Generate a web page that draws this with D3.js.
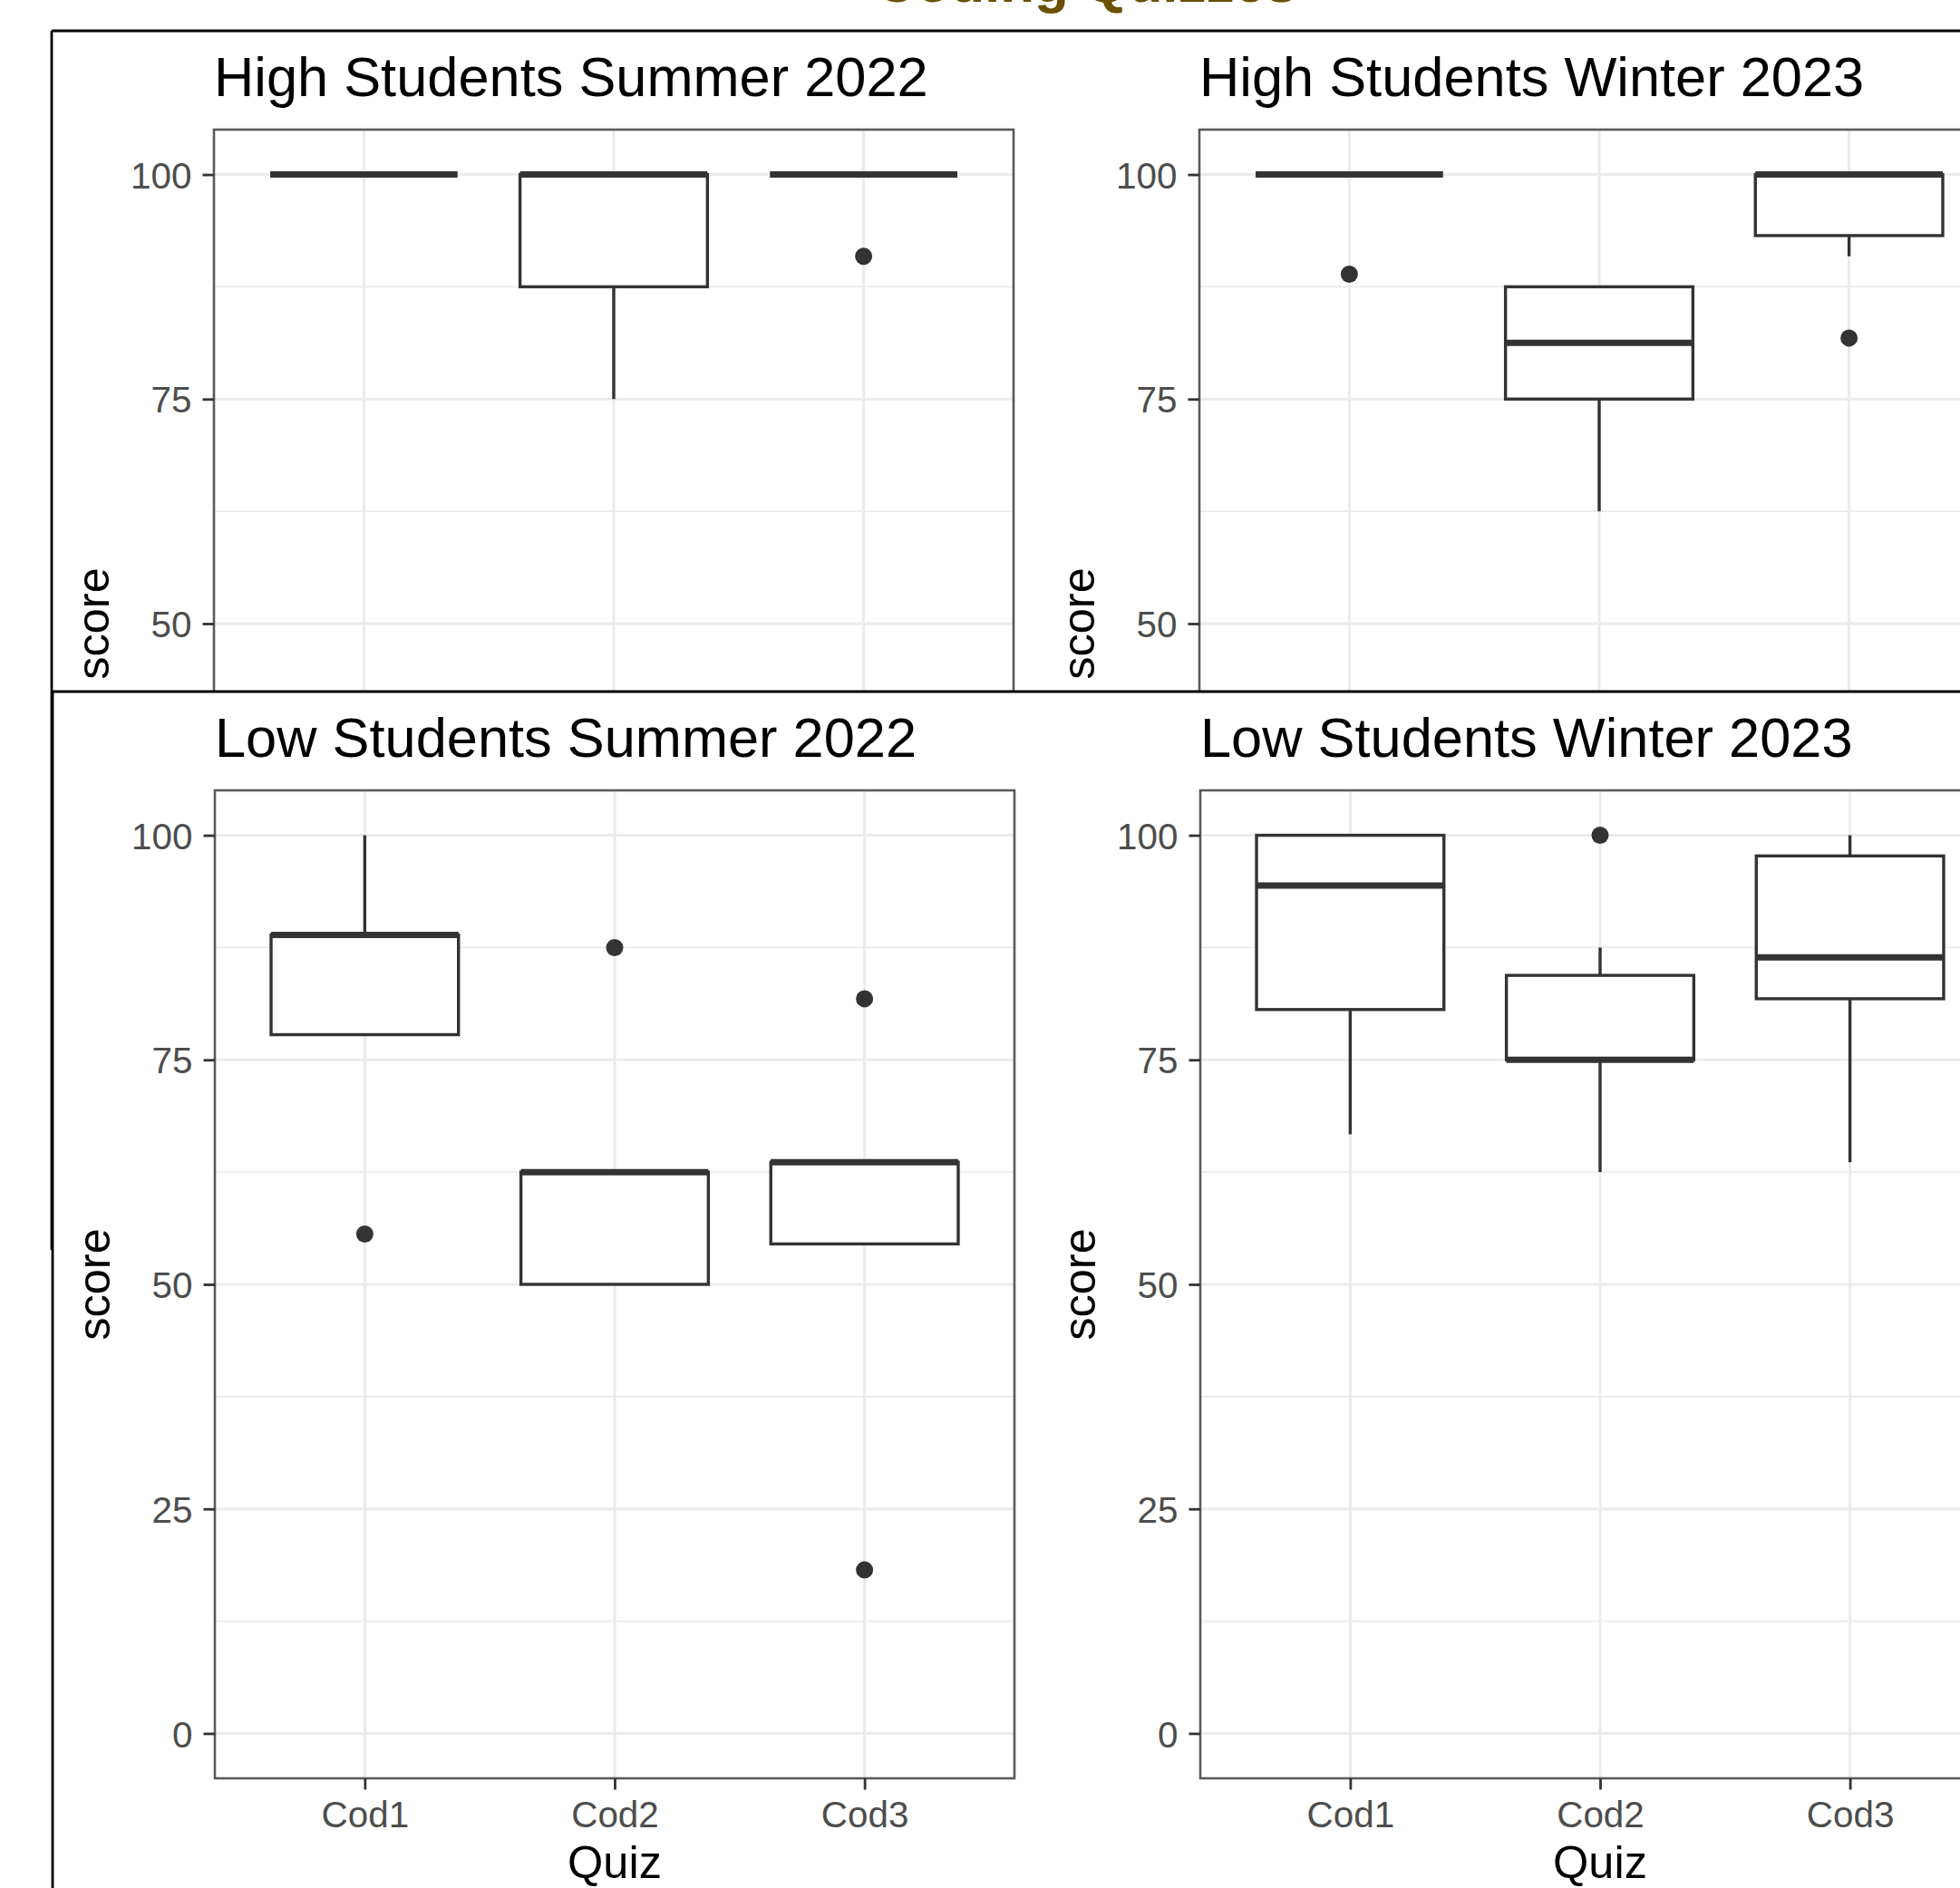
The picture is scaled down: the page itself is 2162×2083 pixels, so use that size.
<!DOCTYPE html>
<html>
<head>
<meta charset="utf-8">
<script src="https://cdn.jsdelivr.net/npm/d3@7"></script>
<style>
  body { margin: 0; background: #fff; }
  svg { display: block; }
  text { font-family: "Liberation Sans", Arial, Helvetica, sans-serif; }
</style>
</head>
<body>
<svg id="chart"></svg>
<script>
const width = 2162;
const height = 2083;

const quizzes = ["Cod1", "Cod2", "Cod3"];
const yTicks = [0, 25, 50, 75, 100];
const yMinorTicks = [12.5, 37.5, 62.5, 87.5];
const yDomain = [-5, 105];

// box stats: whisker low, q1, median, q3, whisker high, outliers
const highSummer2022 = [
  { quiz: "Cod1", low: 100, q1: 100, median: 100, q3: 100, high: 100, outliers: [] },
  { quiz: "Cod2", low: 75, q1: 87.5, median: 100, q3: 100, high: 100, outliers: [] },
  { quiz: "Cod3", low: 100, q1: 100, median: 100, q3: 100, high: 100, outliers: [90.9] },
];
const highWinter2023 = [
  { quiz: "Cod1", low: 100, q1: 100, median: 100, q3: 100, high: 100, outliers: [88.9] },
  { quiz: "Cod2", low: 62.5, q1: 75, median: 81.25, q3: 87.5, high: 87.5, outliers: [] },
  { quiz: "Cod3", low: 90.9, q1: 93.2, median: 100, q3: 100, high: 100, outliers: [81.8] },
];
const lowSummer2022 = [
  { quiz: "Cod1", low: 77.8, q1: 77.8, median: 88.9, q3: 88.9, high: 100, outliers: [55.6] },
  { quiz: "Cod2", low: 50, q1: 50, median: 62.5, q3: 62.5, high: 62.5, outliers: [87.5] },
  { quiz: "Cod3", low: 54.5, q1: 54.5, median: 63.6, q3: 63.6, high: 63.6, outliers: [81.8, 18.2] },
];
const lowWinter2023 = [
  { quiz: "Cod1", low: 66.7, q1: 80.6, median: 94.4, q3: 100, high: 100, outliers: [] },
  { quiz: "Cod2", low: 62.5, q1: 75, median: 75, q3: 84.4, high: 87.5, outliers: [100] },
  { quiz: "Cod3", low: 63.6, q1: 81.8, median: 86.4, q3: 97.7, high: 100, outliers: [] },
];

// two pasted figures, the lower one lying over the upper one
// (visible = how much of the sheet is not covered by the next one)
const sheets = [
  {
    x: 57, y: 34, h: 1345, visible: 729,
    panels: [
      { title: "High Students Summer 2022", data: highSummer2022 },
      { title: "High Students Winter 2023", data: highWinter2023 },
    ],
  },
  {
    x: 58, y: 763, h: 1400, visible: 1400,
    panels: [
      { title: "Low Students Summer 2022", data: lowSummer2022 },
      { title: "Low Students Winter 2023", data: lowWinter2023 },
    ],
  },
];

const panelLefts = [179, 1266];
const panelTop = 109;
const panelW = 882;
const panelH = 1090;
const base = 50.5;
const ink = "#333333";

const svg = d3.select("#chart").attr("width", width).attr("height", height);
svg.append("rect").attr("width", width).attr("height", height).attr("fill", "#fff");

svg.append("text")
  .attr("x", 1198)
  .attr("y", 2)
  .attr("text-anchor", "middle")
  .attr("font-size", 62)
  .attr("font-weight", "bold")
  .attr("fill", "#6b5000")
  .text("Coding Quizzes");

const x = d3.scalePoint().domain(quizzes).range([0, panelW]).padding(0.6);
const y = d3.scaleLinear().domain(yDomain).range([panelH, 0]);
const boxW = x.step() * 0.75;

function drawPanel(g, panel, maxY) {
  g.append("g")
    .selectAll("line")
    .data(yMinorTicks)
    .join("line")
    .attr("x1", 0).attr("x2", panelW)
    .attr("y1", y).attr("y2", y)
    .attr("stroke", "#ebebeb").attr("stroke-width", 1.6);

  g.append("g")
    .selectAll("line")
    .data(yTicks)
    .join("line")
    .attr("x1", 0).attr("x2", panelW)
    .attr("y1", y).attr("y2", y)
    .attr("stroke", "#ebebeb").attr("stroke-width", 3);

  g.append("g")
    .selectAll("line")
    .data(quizzes)
    .join("line")
    .attr("x1", x).attr("x2", x)
    .attr("y1", 0).attr("y2", panelH)
    .attr("stroke", "#ebebeb").attr("stroke-width", 3);

  const box = g.append("g")
    .selectAll("g")
    .data(panel.data)
    .join("g");

  box.append("line")
    .attr("x1", (d) => x(d.quiz)).attr("x2", (d) => x(d.quiz))
    .attr("y1", (d) => y(d.high)).attr("y2", (d) => y(d.q3))
    .attr("stroke", ink).attr("stroke-width", 3.4);

  box.append("line")
    .attr("x1", (d) => x(d.quiz)).attr("x2", (d) => x(d.quiz))
    .attr("y1", (d) => y(d.q1)).attr("y2", (d) => y(d.low))
    .attr("stroke", ink).attr("stroke-width", 3.4);

  box.append("rect")
    .attr("x", (d) => x(d.quiz) - boxW / 2)
    .attr("width", boxW)
    .attr("y", (d) => y(d.q3))
    .attr("height", (d) => y(d.q1) - y(d.q3))
    .attr("fill", "#fff")
    .attr("stroke", ink).attr("stroke-width", 3.4);

  box.append("line")
    .attr("x1", (d) => x(d.quiz) - boxW / 2).attr("x2", (d) => x(d.quiz) + boxW / 2)
    .attr("y1", (d) => y(d.median)).attr("y2", (d) => y(d.median))
    .attr("stroke", ink).attr("stroke-width", 7);

  box.selectAll("circle")
    .data((d) => d.outliers.map((v) => ({ quiz: d.quiz, v })))
    .join("circle")
    .attr("cx", (d) => x(d.quiz))
    .attr("cy", (d) => y(d.v))
    .attr("r", 9.5)
    .attr("fill", ink);

  g.append("rect")
    .attr("width", panelW).attr("height", panelH)
    .attr("fill", "none")
    .attr("stroke", "#5a5a5a").attr("stroke-width", 2.6);

  const axes = [];
  const yAxis = g.append("g")
    .call(d3.axisLeft(y)
      .tickValues(yTicks.filter((v) => y(v) < maxY))
      .tickSize(12.5)
      .tickPadding(12));
  yAxis.selectAll(".tick text").attr("dy", "0.36em");
  axes.push(yAxis);

  if (panelH + 110 < maxY) {
    const xAxis = g.append("g")
      .attr("transform", `translate(0,${panelH})`)
      .call(d3.axisBottom(x).tickSize(12.5).tickPadding(13));
    axes.push(xAxis);

    g.append("text")
      .attr("x", panelW / 2)
      .attr("y", panelH + 110)
      .attr("text-anchor", "middle")
      .attr("font-size", base)
      .attr("fill", "#000")
      .text("Quiz");
  }

  axes.forEach((axis) => {
    axis.select(".domain").remove();
    axis.selectAll(".tick line").attr("stroke", ink).attr("stroke-width", 2.8);
    axis.selectAll(".tick text")
      .attr("font-size", base * 0.8)
      .attr("fill", "#4d4d4d")
      .attr("font-family", null);
  });

  g.append("text")
    .attr("x", 0)
    .attr("y", -37)
    .attr("font-size", base * 1.215)
    .attr("fill", "#000")
    .text(panel.title);

  g.append("text")
    .attr("transform", `translate(-116,${panelH / 2}) rotate(-90)`)
    .attr("text-anchor", "middle")
    .attr("font-size", base)
    .attr("fill", "#000")
    .text("score");
}

sheets.forEach((sheet, i) => {
  const clipId = `sheet-clip-${i}`;
  svg.append("clipPath")
    .attr("id", clipId)
    .append("rect")
    .attr("x", -2).attr("y", -2)
    .attr("width", width).attr("height", sheet.h + 2);

  const sg = svg.append("g")
    .attr("transform", `translate(${sheet.x},${sheet.y})`)
    .attr("clip-path", `url(#${clipId})`);

  sg.append("rect")
    .attr("width", width).attr("height", sheet.h)
    .attr("fill", "#fff");

  sheet.panels.forEach((panel, j) => {
    const g = sg.append("g").attr("transform", `translate(${panelLefts[j]},${panelTop})`);
    drawPanel(g, panel, sheet.visible - panelTop);
  });

  sg.append("line")
    .attr("x1", 0).attr("x2", width)
    .attr("y1", 0).attr("y2", 0)
    .attr("stroke", "#000").attr("stroke-width", 2.8);
  sg.append("line")
    .attr("x1", 0).attr("x2", 0)
    .attr("y1", 0).attr("y2", sheet.h)
    .attr("stroke", "#000").attr("stroke-width", 2.8);
});
</script>
</body>
</html>
